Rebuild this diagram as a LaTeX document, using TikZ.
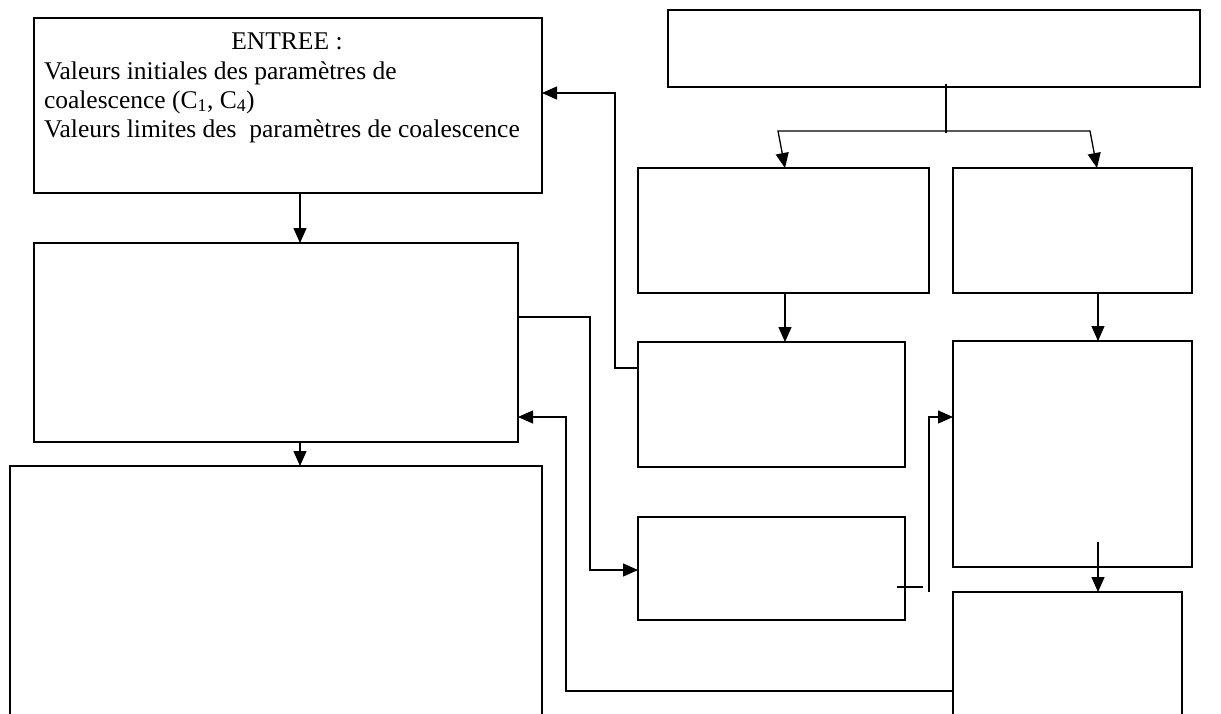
\documentclass[tikz,border=0pt]{standalone}
\usepackage{fontspec}
\setmainfont{Liberation Serif}
\usetikzlibrary{arrows.meta}
\begin{document}
\begin{tikzpicture}[x=1pt,y=-1pt,
  box/.style={draw, line width=1.3pt, inner sep=0pt, outer sep=0pt},
  conn/.style={line width=1.3pt},
  tip/.tip={Triangle[length=15pt,width=13pt]},
  arr/.style={conn, -tip},
  txt/.style={inner sep=0pt, outer sep=0pt, font=\fontsize{25.5}{29}\selectfont}]
\path[use as bounding box] (0,0) rectangle (1221,713);
\clip (0,0) rectangle (1221,713);
% boxes
\node[box, minimum width=508pt, minimum height=175pt] (A) at (288,105.5) {};
\node[box, minimum width=484pt, minimum height=199pt] (B) at (276,342.5) {};
\node[box, minimum width=532pt, minimum height=280pt] (C) at (276,606) {};
\node[box, minimum width=532pt, minimum height=77pt] (T) at (934,48.5) {};
\node[box, minimum width=291pt, minimum height=125pt] (M1) at (783.5,230.5) {};
\node[box, minimum width=239pt, minimum height=125pt] (M2) at (1072.5,230.5) {};
\node[box, minimum width=267pt, minimum height=125pt] (L1) at (771.5,404.5) {};
\node[box, minimum width=267pt, minimum height=103pt] (L2) at (771.5,568.5) {};
\node[box, minimum width=239pt, minimum height=226pt] (R1) at (1072.5,454) {};
\node[box, minimum width=229pt, minimum height=140pt] (R2) at (1067.5,662) {};
% text
\node[txt, anchor=base] (t0) at (287,49) {ENTREE :};
\node[txt, anchor=base west] (t1) at (44,79) {Valeurs initiales des paramètres de};
\node[txt, anchor=base west] (t2) at (44,108) {coalescence (C\textsubscript{1}, C\textsubscript{4})};
\node[txt, anchor=base west] (t3) at (44,137) {Valeurs limites des\ \ paramètres de coalescence};
% helper coordinates
\coordinate (xa) at (300,0);
\coordinate (stemtop) at (946,84);
\coordinate (hL) at (778,131);
\coordinate (hR) at (1090,131);
\coordinate (stembot) at (946,133);
\coordinate (xl) at (785,0);
\coordinate (xr) at (1097,0);
\coordinate (xr2) at (1098,0);
\coordinate (r1in) at (1098,542);
\coordinate (k1) at (615,368);
\coordinate (k2) at (615,93);
\coordinate (m1) at (590,317);
\coordinate (m2) at (590,570);
\coordinate (n1) at (566,691);
\coordinate (n2) at (566,417);
\coordinate (c1) at (897,587);
\coordinate (c2) at (923,587);
\coordinate (v1) at (929,592);
\coordinate (v2) at (929,417);
% connectors
\draw[arr] (A.south -| xa) -- (B.north -| xa);
\draw[arr] (B.south -| xa) -- (C.north -| xa);
\draw[conn] (stemtop) -- (stembot);
\draw[conn, tip-tip] (M1.north -| xl) -- (hL) -- (hR) -- (M2.north -| xr);
\draw[arr] (M1.south -| xl) -- (L1.north -| xl);
\draw[arr] (M2.south -| xr2) -- (R1.north -| xr2);
\draw[arr] (r1in) -- (R2.north -| r1in);
\draw[arr] (k1 -| L1.west) -- (k1) -- (k2) -- (k2 -| A.east);
\draw[arr] (m1 -| B.east) -- (m1) -- (m2) -- (m2 -| L2.west);
\draw[arr] (n1 -| R2.west) -- (n1) -- (n2) -- (n2 -| B.east);
\draw[conn] (c1) -- (c2);
\draw[arr] (v1) -- (v2) -- (v2 -| R1.west);
\end{tikzpicture}
\end{document}
